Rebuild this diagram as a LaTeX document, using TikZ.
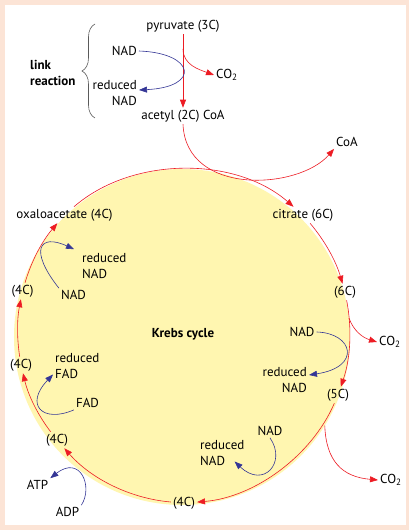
\documentclass[tikz,border=0pt]{standalone}
\usepackage{fontspec}
\setmainfont{PT Sans}
\usetikzlibrary{arrows.meta,decorations.pathreplacing,calc}
\definecolor{kred}{RGB}{237,28,36}
\definecolor{kblue}{RGB}{52,54,150}
\definecolor{kyellow}{RGB}{255,246,176}
\definecolor{kpeach}{RGB}{252,228,214}
\definecolor{kgray}{RGB}{90,90,90}
\newcommand{\kfont}{\fontsize{13}{16}\selectfont}
\begin{document}
\begin{tikzpicture}[x=1pt,y=1pt,font=\kfont]
\tikzstyle{every node}+=[inner sep=2pt]
\tikzstyle{redarr}=[draw=kred,line width=0.6pt,-{Triangle[length=8pt,width=6pt]}]
\tikzstyle{cyc}=[redarr,looseness=0.87]
\tikzstyle{bluearr}=[draw=kblue,line width=0.6pt,-{Triangle[length=8pt,width=6pt]}]
\useasboundingbox (-182,337) rectangle (227,-193);
\fill [kpeach] (-182,337) rectangle (227,-193);
\fill [white] (-177,332) rectangle (224,-188);
\fill [kyellow] (0,0) circle (168pt);
\node (pyr) at (1,311) {pyruvate (3C)};
\node (acet) at (1,221) {acetyl (2C) CoA};
\node [anchor=east] (nadL) at (-43,286) {NAD};
\node [anchor=east,align=right] (rnadL) at (-43,244) {reduced\\NAD};
\node [anchor=west,align=left,font=\kfont\bfseries] (link) at (-154,264) {link\\reaction};
\node [anchor=west] (co2L) at (32,262) {CO\textsubscript{2}};
\node (coa) at (165,195) {CoA};
\draw [kgray,line width=0.6pt,decorate,decoration={brace,amplitude=13pt}] (-87,219) -- (-87,313);
\node (oxa) at (-117.5,122) {oxaloacetate (4C)};
\node (cit) at (121,122) {citrate (6C)};
\node (c6) at (163,45) {(6C)};
\node (c5) at (156,-58) {(5C)};
\node (c4b) at (2,-166) {(4C)};
\node (c4ll) at (-125,-103) {(4C)};
\node (c4l) at (-161,-28) {(4C)};
\node (c4ul) at (-159.5,46) {(4C)};
\node [font=\kfont\bfseries] (krebs) at (1,3) {Krebs cycle};
\node (nad1) at (-108.5,42) {NAD};
\node [anchor=west,align=left] (rnad1) at (-102,71) {reduced\\NAD};
\node (nad2) at (120,5) {NAD};
\node [anchor=east,align=right] (rnad2) at (127,-43) {reduced\\NAD};
\node [anchor=west] (co2a) at (195,-5) {CO\textsubscript{2}};
\node (nad3) at (88,-94) {NAD};
\node [anchor=west,align=left] (rnad3) at (16,-116.5) {reduced\\NAD};
\node [anchor=west] (co2b) at (196,-143) {CO\textsubscript{2}};
\node [anchor=west,align=left] (rfad) at (-129,-29.5) {reduced\\FAD};
\node (fad) at (-94.5,-66) {FAD};
\node (atp) at (-144.5,-148) {ATP};
\node (adp) at (-114.5,-175) {ADP};
\draw [cyc,looseness=0.9] (oxa) to [bend left=41] (cit);
\draw [cyc] (cit) to [bend left=12] (c6);
\draw [cyc] (c6) to [bend left=15] (c5);
\draw [cyc] (c5) to [bend left=31] (c4b);
\draw [cyc] (c4b) to [bend left=22] (c4ll);
\draw [cyc] (c4ll) to [bend left=12] (c4l);
\draw [cyc] (c4l) to [bend left=10] (c4ul);
\draw [cyc] (c4ul) to [bend left=12] (oxa);
\draw [redarr] (pyr) -- (acet);
\coordinate (br1) at ($(pyr.south)!0.2!(acet.north)$);
\draw [redarr] (br1) to [out=-90,in=160] (co2L.west);
\draw [redarr] (acet.south) .. controls +(3,-72) and +(-35.5,-41) .. (coa.south west);
\coordinate (br2) at (6.5:168);
\draw [redarr] (br2) to [out=-70,in=163] (co2a.west);
\coordinate (br3) at (-31.8:168);
\draw [redarr] (br3) to [out=-88,in=175,looseness=1.2] (co2b.west);
\draw [bluearr] (nadL.east) .. controls +(56,-2) and +(62,3) .. ([yshift=3pt]rnadL.east);
\draw [bluearr] (nad1.north west) .. controls +(-30,38) and +(-35,16) .. ([shift={(-6,2)}]rnad1.north west);
\draw [bluearr] (nad2.east) .. controls +(36.5,-1) and +(53,8) .. ([yshift=5pt]rnad2.east);
\draw [bluearr] (nad3.south) .. controls +(17,-24.5) and +(29,-27.5) .. ([shift={(-12,-8)}]rnad3.east);
\draw [bluearr] (fad.south west) .. controls +(-31,-13.5) and +(-29,-30.5) .. ([yshift=-8pt]rfad.west);
\draw [bluearr] (adp.north east) .. controls +(12,18.5) and +(30,23.5) .. (atp.north east);
\end{tikzpicture}
\end{document}
